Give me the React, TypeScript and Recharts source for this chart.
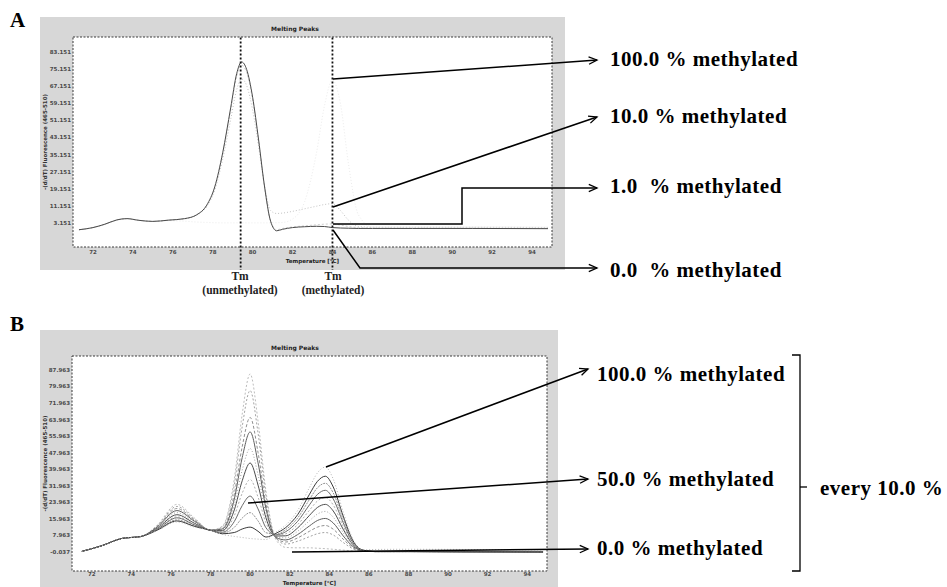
import React from 'react';
import { LineChart, Line, XAxis, YAxis, CartesianGrid, ReferenceArea, ReferenceLine } from 'recharts';

// ---------- Panel A data ----------
const TEMP_A = [71.3, 72, 72.6, 73.2, 73.7, 74.3, 75, 75.8, 76.6, 77.2, 77.7, 78.1, 78.5, 78.9, 79.2, 79.45, 79.7, 80, 80.3, 80.6, 80.9, 81.2, 81.5, 82, 82.6, 83.2, 83.6, 84, 84.4, 84.8, 85.3, 86, 88, 91, 94.8];
const A_M0 = [0, 1.0, 2.6, 4.6, 5.2, 4.4, 3.9, 4.5, 5.2, 7.0, 11.5, 20, 36, 57, 73, 78.5, 75, 62, 42, 20, 4, -0.5, 0.2, 1.0, 1.4, 1.6, 1.5, 1.0, 0.8, 0.7, 0.6, 0.6, 0.6, 0.6, 0.5];
const A_M1 = [0, 1.0, 2.6, 4.6, 5.2, 4.4, 3.9, 4.5, 5.2, 7.0, 11.3, 19.6, 35.3, 55.9, 71.6, 77, 73.5, 60.8, 41.2, 19.6, 4.0, 0, 0.6, 1.3, 1.8, 2.3, 2.6, 2.7, 2.2, 1.5, 1.0, 0.8, 0.7, 0.7, 0.6];
const A_M10 = [0, 1.0, 2.6, 4.6, 5.2, 4.4, 3.9, 4.5, 5.1, 6.8, 10.8, 18.5, 33, 51.5, 65.5, 70.5, 67.5, 56, 39, 20.5, 9.0, 7.6, 7.8, 8.6, 9.8, 11.0, 11.8, 12.2, 9.0, 4.5, 1.5, 1.2, 1.2, 1.2, 1.1];
const A_M100 = [0, 1.0, 2.5, 4.5, 5.0, 4.4, 3.9, 4.2, 4.0, 3.6, 3.4, 3.3, 3.2, 3.2, 3.2, 3.2, 3.2, 3.2, 3.2, 3.2, 3.2, 3.3, 3.4, 5.0, 13, 36, 58, 70, 59, 31, 7, 1.3, 1.3, 1.3, 1.2];
const TM_A = [79.4, 84.0];
const A_Y_TICKS = [3.151, 11.151, 19.151, 27.151, 35.151, 43.151, 51.151, 59.151, 67.151, 75.151, 83.151];
const A_Y_DOMAIN = [-8.08, 90.17];

// ---------- Panel B data ----------
const TEMP_B = [71.5, 72.5, 73.5, 74.5, 75.3, 76.3, 77.2, 78, 78.6, 79.2, 79.6, 80, 80.4, 80.8, 81.3, 81.8, 82.4, 83, 83.4, 83.8, 84.2, 84.7, 85.2, 85.7, 86.3, 88, 91, 94.8];
const B_M0 = [0.3, 3.0, 6.5, 7.5, 12.9, 23, 16.3, 10.5, 12.5, 35.3, 66.6, 86, 63.2, 29.4, 6.0, 2.2, 2.0, 2.0, 1.8, 1.6, 1.3, 0.9, 0.5, 0.3, 0.2, 0.2, 0.1, 0.0];
const B_M10 = [0.3, 3.0, 6.5, 7.5, 12.6, 22, 15.8, 10.5, 12.1, 32.5, 60.6, 78, 57.5, 27.0, 6.7, 3.8, 5.2, 7.4, 8.8, 9.4, 8.2, 4.6, 1.5, 0.4, 0.2, 0.2, 0.1, 0.0];
const B_M20 = [0.3, 3.0, 6.5, 7.5, 12.3, 21, 15.3, 10.5, 11.4, 28.0, 50.9, 65, 48.1, 23.1, 6.7, 4.8, 6.8, 10.0, 12.0, 12.8, 11.0, 6.2, 2.0, 0.5, 0.2, 0.2, 0.1, 0.0];
const B_M30 = [0.3, 3.0, 6.5, 7.5, 12.0, 20, 14.8, 10.5, 11.1, 25.5, 45.6, 58, 43.1, 21.0, 7.1, 5.8, 8.4, 12.6, 15.2, 16.2, 14.0, 7.8, 2.6, 0.6, 0.2, 0.2, 0.1, 0.0];
const B_M40 = [0.3, 3.0, 6.5, 7.5, 11.7, 19, 14.3, 10.5, 10.7, 22.7, 39.6, 50, 37.3, 18.6, 7.4, 6.8, 10.0, 15.1, 18.3, 19.6, 16.8, 9.4, 3.0, 0.6, 0.2, 0.2, 0.1, 0.0];
const B_M50 = [0.3, 3.0, 6.5, 7.5, 11.4, 18, 13.8, 10.5, 10.3, 20.3, 34.4, 43, 32.3, 16.5, 7.7, 7.8, 11.6, 17.7, 21.5, 23, 19.8, 11.0, 3.5, 0.7, 0.2, 0.2, 0.1, 0.0];
const B_M60 = [0.3, 3.0, 6.5, 7.5, 11.1, 17, 13.3, 10.5, 9.9, 17.5, 28.4, 35, 26.5, 14.1, 8.0, 8.8, 13.2, 20.2, 24.6, 26.4, 22.7, 12.5, 3.9, 0.8, 0.2, 0.2, 0.1, 0.0];
const B_M70 = [0.3, 3.0, 6.5, 7.5, 10.9, 16.5, 13.0, 10.5, 9.5, 14.7, 22.4, 27, 20.8, 11.7, 8.3, 9.8, 14.8, 22.8, 27.8, 29.8, 25.6, 14.2, 4.4, 0.8, 0.2, 0.2, 0.1, 0.0];
const B_M80 = [0.3, 3.0, 6.5, 7.5, 10.6, 15.5, 12.5, 10.5, 9.1, 11.9, 16.4, 19, 15.0, 9.3, 8.6, 10.8, 16.4, 25.4, 31.0, 33.2, 28.5, 15.7, 5.0, 0.9, 0.2, 0.2, 0.1, 0.0];
const B_M90 = [0.3, 3.0, 6.5, 7.5, 10.5, 15, 12.3, 10.5, 8.8, 9.4, 11.1, 12, 10.0, 7.2, 9.0, 11.8, 18.0, 27.9, 34.1, 36.6, 31.4, 17.4, 5.4, 0.9, 0.2, 0.2, 0.1, 0.0];
const B_M100 = [0.3, 3.0, 6.5, 7.5, 10.3, 14.5, 12.0, 10.5, 8.5, 7.5, 7.0, 6.5, 6.2, 6.0, 9.5, 13.0, 20.0, 31.2, 38.2, 41, 35.2, 19.4, 6.0, 1.0, 1.2, 1.3, 1.2, 1.0];
const B_SERIES = [B_M0, B_M10, B_M20, B_M30, B_M40, B_M50, B_M60, B_M70, B_M80, B_M90, B_M100];
const B_Y_TICKS = [-0.037, 7.963, 15.963, 23.963, 31.963, 39.963, 47.963, 55.963, 63.963, 71.963, 79.963, 87.963];
const B_Y_DOMAIN = [-9.2, 94.7];

const X_TICKS = [72, 74, 76, 78, 80, 82, 84, 86, 88, 90, 92, 94];
const X_DOMAIN = [71, 95];

// ---------- styles ----------
const B_STYLES = [
  { c: '#bdbdbd', d: '2 2' },
  { c: '#a4a4a4', d: '2 2' },
  { c: '#909090', d: '3 2' },
  { c: '#5e5e5e', d: undefined },
  { c: '#a0a0a0', d: '1 2' },
  { c: '#4c4c4c', d: undefined },
  { c: '#aeaeae', d: '2 2' },
  { c: '#6a6a6a', d: undefined },
  { c: '#929292', d: '2 1' },
  { c: '#3a3a3a', d: undefined },
  { c: '#b4b4b4', d: '1 2' },
];

const dataA = TEMP_A.map((t, i) => ({ t, m0: A_M0[i], m1: A_M1[i], m10: A_M10[i], m100: A_M100[i] }));
const dataB = TEMP_B.map((t, i) => {
  const row: any = { t };
  B_SERIES.forEach((s, k) => { row['m' + k * 10] = s[i]; });
  return row;
});

const tickStyle = { fontSize: 5.5, fill: '#4a4a4a', fontFamily: 'DejaVu Sans', fontWeight: 'bold' as const };
const serif = '"Liberation Serif", "Times New Roman", serif';
const YLABEL = '-(d/dT) Fluorescence (465-510)';

function Arrow({ pts }: { pts: number[][] }) {
  const [x1, y1] = pts[pts.length - 2];
  const [x2, y2] = pts[pts.length - 1];
  const a = Math.atan2(y2 - y1, x2 - x1);
  const L = 9, s = 0.42;
  const h1 = [x2 - L * Math.cos(a - s), y2 - L * Math.sin(a - s)];
  const h2 = [x2 - L * Math.cos(a + s), y2 - L * Math.sin(a + s)];
  return (
    <g fill="none" stroke="#000" strokeWidth={1.5}>
      <polyline points={pts.map((p) => p.join(',')).join(' ')} />
      <polyline points={`${h1[0]},${h1[1]} ${x2},${y2} ${h2[0]},${h2[1]}`} strokeWidth={1.3} />
    </g>
  );
}

function Label({ x, y, text }: { x: number; y: number; text: string }) {
  return (
    <text x={x} y={y} dominantBaseline="central" fontFamily={serif} fontWeight="bold" fontSize={21} letterSpacing={0.5} fill="#000" style={{ whiteSpace: 'pre' }}>
      {text}
    </text>
  );
}

export default function App() {
  return (
    <div style={{ position: 'absolute', left: 0, top: 0, width: 947, height: 587, background: '#fff', overflow: 'hidden' }}>
      {/* Panel A */}
      <div style={{ position: 'absolute', left: 40, top: 17, width: 525, height: 253, background: '#d7d7d7' }}>
        <LineChart width={525} height={253} data={dataA} margin={{ top: 20, right: 13, bottom: 0, left: 0 }}>
          <CartesianGrid fill="#ffffff" stroke="none" horizontal={false} vertical={false} />
          <XAxis type="number" dataKey="t" domain={X_DOMAIN} ticks={X_TICKS} allowDataOverflow height={23}
            tick={tickStyle} tickLine={false} axisLine={false} tickSize={0} tickMargin={3}
            label={{ value: 'Temperature [°C]', position: 'insideBottom', offset: 7, style: { ...tickStyle, fill: '#222' } }} />
          <YAxis type="number" domain={A_Y_DOMAIN} ticks={A_Y_TICKS} allowDataOverflow width={33}
            tick={tickStyle} tickLine={false} axisLine={false} tickSize={0} tickMargin={2}
            tickFormatter={(v: number) => v.toFixed(3)}
            label={{ value: YLABEL, angle: -90, position: 'insideLeft', offset: 5, style: { ...tickStyle, fill: '#333', textAnchor: 'middle' } }} />
          <ReferenceArea x1={X_DOMAIN[0]} x2={X_DOMAIN[1]} y1={A_Y_DOMAIN[0]} y2={A_Y_DOMAIN[1]} fill="none" fillOpacity={0} stroke="#3a3a3a" strokeDasharray="2 1.5" ifOverflow="visible" />
          <Line dataKey="m100" type="monotone" stroke="#ececec" strokeWidth={1} strokeDasharray="1 2" dot={false} isAnimationActive={false} />
          <Line dataKey="m10" type="monotone" stroke="#c4c4c4" strokeWidth={1} strokeDasharray="1 2" dot={false} isAnimationActive={false} />
          <Line dataKey="m1" type="monotone" stroke="#cfcfcf" strokeWidth={1} strokeDasharray="2 2" dot={false} isAnimationActive={false} />
          <Line dataKey="m0" type="monotone" stroke="#4a4a4a" strokeWidth={1} dot={false} isAnimationActive={false} />
          {TM_A.map((tm) => (
            <ReferenceLine key={tm} segment={[{ x: tm, y: -19.5 }, { x: tm, y: A_Y_DOMAIN[1] }]} stroke="#111" strokeWidth={1.8} strokeDasharray="1.8 2.2" ifOverflow="visible" />
          ))}
        </LineChart>
      </div>

      {/* Panel B */}
      <div style={{ position: 'absolute', left: 40, top: 330, width: 518, height: 257, background: '#d7d7d7' }}>
        <LineChart width={518} height={257} data={dataB} margin={{ top: 26, right: 11, bottom: 0, left: 0 }}>
          <CartesianGrid fill="#ffffff" stroke="none" horizontal={false} vertical={false} />
          <XAxis type="number" dataKey="t" domain={X_DOMAIN} ticks={X_TICKS} allowDataOverflow height={16}
            tick={tickStyle} tickLine={false} axisLine={false} tickSize={0} tickMargin={1}
            label={{ value: 'Temperature [°C]', position: 'insideBottom', offset: 2, style: { ...tickStyle, fill: '#222' } }} />
          <YAxis type="number" domain={B_Y_DOMAIN} ticks={B_Y_TICKS} allowDataOverflow width={32}
            tick={tickStyle} tickLine={false} axisLine={false} tickSize={0} tickMargin={2}
            tickFormatter={(v: number) => v.toFixed(3)}
            label={{ value: YLABEL, angle: -90, position: 'insideLeft', offset: 5, style: { ...tickStyle, fill: '#333', textAnchor: 'middle' } }} />
          <ReferenceArea x1={X_DOMAIN[0]} x2={X_DOMAIN[1]} y1={B_Y_DOMAIN[0]} y2={B_Y_DOMAIN[1]} fill="none" fillOpacity={0} stroke="#3a3a3a" strokeDasharray="2 1.5" ifOverflow="visible" />
          {B_SERIES.map((_, k) => (
            <Line key={k} dataKey={'m' + k * 10} type="monotone" stroke={B_STYLES[k].c} strokeDasharray={B_STYLES[k].d}
              strokeWidth={1} dot={false} isAnimationActive={false} />
          ))}
        </LineChart>
      </div>

      {/* annotations */}
      <svg width={947} height={587} style={{ position: 'absolute', left: 0, top: 0, pointerEvents: 'none' }}>
        <text x={10} y={27} fontFamily={serif} fontWeight="bold" fontSize={21} fill="#000">A</text>
        <text x={10} y={331} fontFamily={serif} fontWeight="bold" fontSize={21} fill="#000">B</text>
        <text x={295} y={31} textAnchor="middle" fontFamily="DejaVu Sans" fontWeight="bold" fontSize={6} fill="#222">Melting Peaks</text>
        <text x={295} y={350} textAnchor="middle" fontFamily="DejaVu Sans" fontWeight="bold" fontSize={6} fill="#222">Melting Peaks</text>

        <g fontFamily={serif} fontWeight="bold" fontSize={11.5} fill="#222" textAnchor="middle">
          <text x={240} y={280}>Tm</text>
          <text x={240} y={294}>(unmethylated)</text>
          <text x={333} y={280}>Tm</text>
          <text x={333} y={294}>(methylated)</text>
        </g>

        <Arrow pts={[[333, 79], [597, 60]]} />
        <Arrow pts={[[333, 207], [597, 117]]} />
        <Arrow pts={[[333, 224], [462, 224], [462, 188], [597, 188]]} />
        <Arrow pts={[[333, 230], [360, 268], [597, 268]]} />
        <Label x={610} y={59} text="100.0 % methylated" />
        <Label x={610} y={116} text="10.0 % methylated" />
        <Label x={610} y={186} text="1.0  % methylated" />
        <Label x={610} y={270} text="0.0  % methylated" />

        <Arrow pts={[[326, 467], [588, 369]]} />
        <Arrow pts={[[248, 503], [588, 479]]} />
        <Arrow pts={[[292, 552], [588, 549]]} />
        <Label x={597} y={374} text="100.0 % methylated" />
        <Label x={597} y={479} text="50.0 % methylated" />
        <Label x={597} y={548} text="0.0 % methylated" />

        <g fill="none" stroke="#000" strokeWidth={1.3}>
          <polyline points="792,355 800,355 800,571 792,571" />
          <line x1={800} y1={487} x2={807} y2={487} />
        </g>
        <Label x={820} y={488} text="every 10.0 %" />
      </svg>
    </div>
  );
}
